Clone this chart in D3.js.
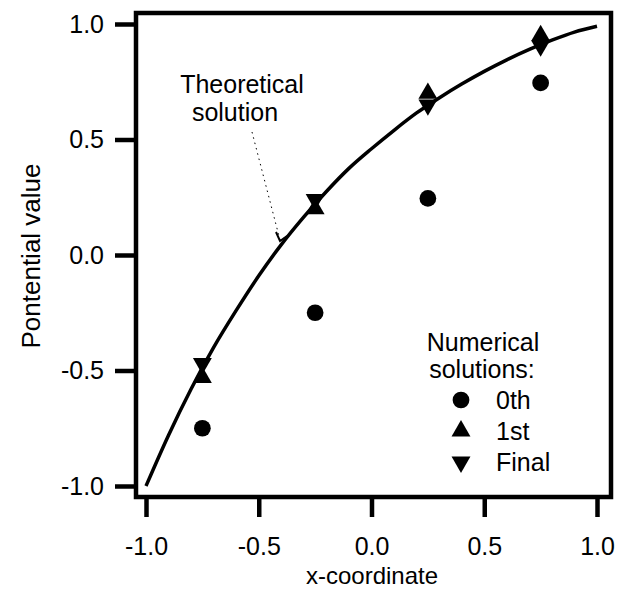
<!DOCTYPE html>
<html><head><meta charset="utf-8">
<script src="https://cdn.jsdelivr.net/npm/d3@7"></script>
<style>body{margin:0;background:#fff}svg{display:block}text{font-family:"Liberation Sans",Arial,sans-serif;fill:#000}</style>
</head><body>
<script>
// Data
const xTicks = [-1.0, -0.5, 0.0, 0.5, 1.0];
const yTicks = [-1.0, -0.5, 0.0, 0.5, 1.0];
const theoryX = [-1.0,-0.9,-0.8,-0.7,-0.6,-0.5,-0.4,-0.3,-0.2,-0.1,0.0,0.1,0.2,0.3,0.4,0.5,0.6,0.7,0.8,0.9,1.0];
const theoryY = [-1.0,-0.78,-0.58,-0.40,-0.24,-0.09,0.045,0.165,0.275,0.375,0.46,0.54,0.615,0.68,0.74,0.795,0.845,0.89,0.93,0.965,0.99];
const nodeX = [-0.75, -0.25, 0.25, 0.75];
const sol0th = [-0.75, -0.25, 0.245, 0.745];
const sol1st = [-0.53, 0.20, 0.70, 0.95];
const solFinal = [-0.47, 0.24, 0.65, 0.905];
const legendLabels = ["0th", "1st", "Final"];

const W = 617, H = 590;
const svg = d3.select("body").append("svg").attr("width", W).attr("height", H);
const x = d3.scaleLinear().domain([-1, 1]).range([146, 597]);
const y = d3.scaleLinear().domain([-1, 1]).range([486, 24]);
const fmt = d => d3.format(".1f")(d).replace("\u2212", "-");

// frame
svg.append("rect").attr("x", 136).attr("y", 13).attr("width", 475).attr("height", 484)
  .attr("fill", "none").attr("stroke", "#000").attr("stroke-width", 4.5);

// axes
const xAxis = d3.axisBottom(x).tickValues(xTicks).tickFormat(fmt).tickSize(20).tickPadding(20);
const gx = svg.append("g").attr("transform", "translate(0,497)").call(xAxis);
const yAxis = d3.axisLeft(y).tickValues(yTicks).tickFormat(fmt).tickSize(21).tickPadding(11);
const gy = svg.append("g").attr("transform", "translate(136,0)").call(yAxis);
[gx, gy].forEach(g => {
  g.select(".domain").remove();
  g.selectAll(".tick line").attr("stroke", "#000").attr("stroke-width", 4.5);
  g.selectAll(".tick text").style("font-size", "25px").attr("fill", "#000");
});

// axis titles
svg.append("text").attr("x", 372).attr("y", 584).attr("text-anchor", "middle")
  .style("font-size", "24px").text("x-coordinate");
svg.append("text").attr("transform", "translate(40,256) rotate(-90)").attr("text-anchor", "middle")
  .style("font-size", "26px").text("Pontential value");

// theoretical curve
const line = d3.line().x(d => x(d[0])).y(d => y(d[1])).curve(d3.curveMonotoneX);
svg.append("path").datum(theoryX.map((v, i) => [v, theoryY[i]]))
  .attr("d", line).attr("fill", "none").attr("stroke", "#000").attr("stroke-width", 3.5);

// markers
const sym = {
  circle: d3.symbol().type(d3.symbolCircle).size(220),
  up: d3.symbol().type(d3.symbolTriangle).size(155),
  down: d3.symbol().type(d3.symbolTriangle).size(155)
};
function drawSeries(vals, gen, rot) {
  svg.append("g").selectAll("path").data(vals).join("path")
    .attr("d", gen)
    .attr("transform", (d, i) => `translate(${x(nodeX[i])},${y(d)}) rotate(${rot})`)
    .attr("fill", "#000");
}
drawSeries(sol0th, sym.circle, 0);
drawSeries(sol1st, sym.up, 0);
drawSeries(solFinal, sym.down, 180);

// annotation
const ann = svg.append("g");
ann.append("text").attr("x", 242).attr("y", 93).attr("text-anchor", "middle").style("font-size", "25px").text("Theoretical");
ann.append("text").attr("x", 235).attr("y", 121).attr("text-anchor", "middle").style("font-size", "25px").text("solution");
ann.append("line").attr("x1", 252).attr("y1", 132).attr("x2", 280).attr("y2", 240)
  .attr("stroke", "#000").attr("stroke-width", 1).attr("stroke-dasharray", "1.5,4");
ann.append("path").attr("d", "M276,232 L280,241 L287,236").attr("fill", "none").attr("stroke", "#000").attr("stroke-width", 2);

// legend
const lg = svg.append("g");
lg.append("text").attr("x", 483).attr("y", 351).attr("text-anchor", "middle").style("font-size", "25px").text("Numerical");
lg.append("text").attr("x", 482).attr("y", 378).attr("text-anchor", "middle").style("font-size", "25px").text("solutions:");
const legSyms = [[sym.circle, 0], [sym.up, 0], [sym.down, 180]];
legendLabels.forEach((t, i) => {
  const cy = 400 + i * 31;
  lg.append("path").attr("d", legSyms[i][0]).attr("transform", `translate(461,${cy}) rotate(${legSyms[i][1]})`).attr("fill", "#000");
  lg.append("text").attr("x", 496).attr("y", cy + 9).style("font-size", "25px").text(t);
});
</script>
</body></html>
